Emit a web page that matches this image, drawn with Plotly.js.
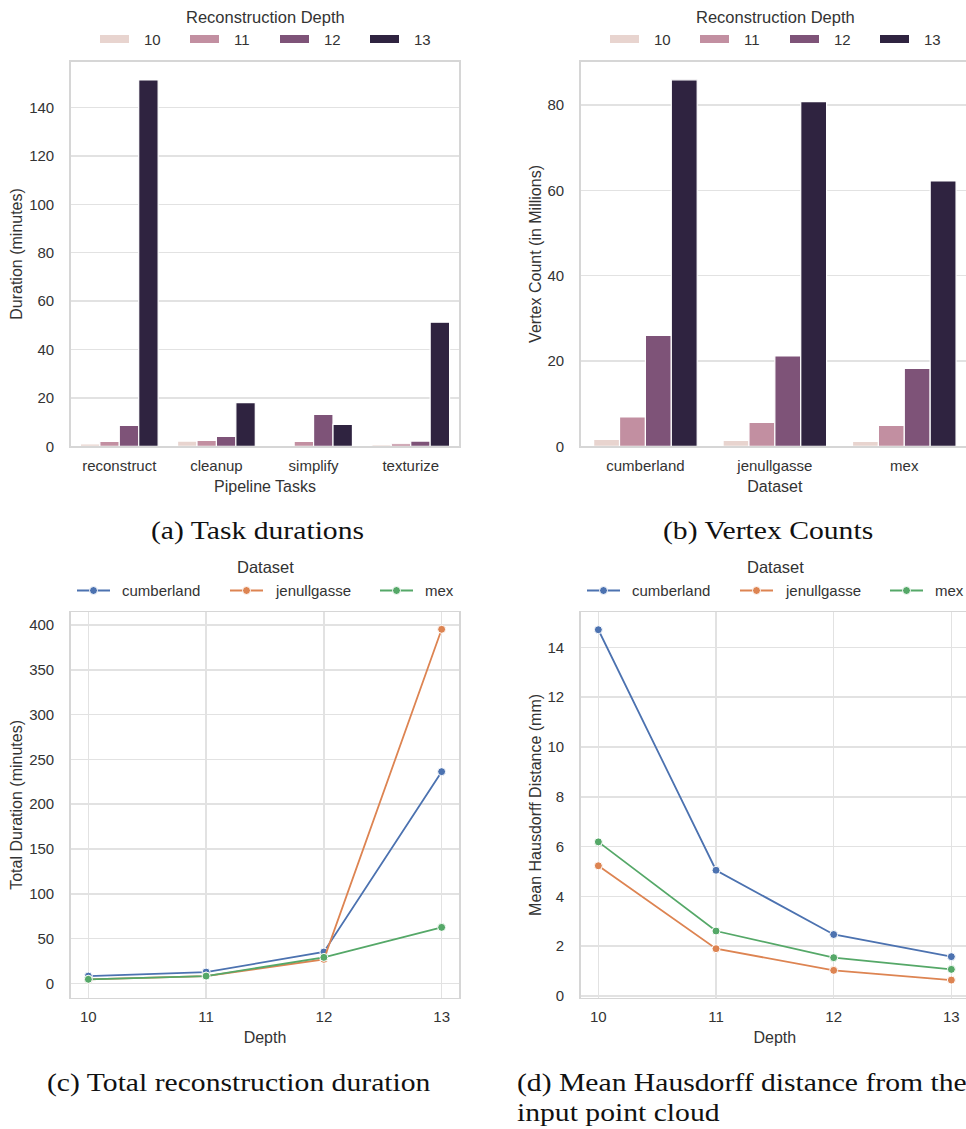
<!DOCTYPE html>
<html>
<head>
<meta charset="utf-8">
<script src="https://cdn.plot.ly/plotly-3.0.1.min.js"></script>
<style>
  html, body { margin: 0; padding: 0; background: #fff; overflow: hidden; }
  #wrap { position: relative; width: 966px; height: 1129px; overflow: hidden; }
  #chart { position: absolute; left: 0; top: 0; width: 980px; height: 1129px; }
  .cap { position: absolute; white-space: nowrap; font-family: "Liberation Serif", "DejaVu Serif", serif;
         font-size: 26px; line-height: 30px; color: #111111; transform-origin: 0 50%;
         transform: scaleX(1.14); }
</style>
</head>
<body>
<div id="wrap">
  <div id="chart"></div>
  <div class="cap" style="left:151px; top:516px;">(a) Task durations</div>
  <div class="cap" style="left:663px; top:516px;">(b) Vertex Counts</div>
  <div class="cap" style="left:47px; top:1068px;">(c) Total reconstruction duration</div>
  <div class="cap" style="left:517px; top:1068px;">(d) Mean Hausdorff distance from the<br>input point cloud</div>
</div>
<script>
// ---------- data ----------
const tasks = ['reconstruct', 'cleanup', 'simplify', 'texturize'];
const depthLabels = ['10', '11', '12', '13'];
const duration10 = [1.0, 2.2, 0.2, 0.7];
const duration11 = [2.1, 2.5, 2.1, 1.1];
const duration12 = [8.7, 4.1, 13.2, 2.2];
const duration13 = [151.4, 18.1, 9.1, 51.3];

const datasets = ['cumberland', 'jenullgasse', 'mex'];
const vertex10 = [1.65, 1.4, 1.2];
const vertex11 = [6.9, 5.6, 4.9];
const vertex12 = [26.0, 21.2, 18.3];
const vertex13 = [85.9, 80.8, 62.2];

const depths = [10, 11, 12, 13];
const totalCumberland = [8.1, 12.6, 35.0, 236.3];
const totalJenullgasse = [4.4, 8.1, 26.8, 395.2];
const totalMex = [4.5, 8.1, 29.0, 62.5];

const hausCumberland = [14.71, 5.05, 2.47, 1.58];
const hausJenullgasse = [5.23, 1.90, 1.03, 0.64];
const hausMex = [6.19, 2.61, 1.54, 1.07];

// ---------- styling ----------
const W = 980, H = 1129;
const X = p => p / W;
const Y = p => 1 - p / H;
const barColors = ['#e8d4cf', '#c28fa1', '#7e5378', '#2f2340'];
const lineColors = ['#4c72b0', '#dd8452', '#55a868'];
const gridColor = '#e2e2e2';
const frameColor = '#d6d6d6';
const textColor = '#333333';
const sans = '"Liberation Sans", Arial, sans-serif';

const durationSeries = [duration10, duration11, duration12, duration13];
const vertexSeries = [vertex10, vertex11, vertex12, vertex13];
const totalSeries = [totalCumberland, totalJenullgasse, totalMex];
const hausSeries = [hausCumberland, hausJenullgasse, hausMex];

const traces = [];
durationSeries.forEach((vals, i) => traces.push({
  type: 'bar', x: tasks, y: vals, name: depthLabels[i], xaxis: 'x', yaxis: 'y',
  marker: { color: barColors[i], line: { color: '#ffffff', width: 1.2 } }
}));
vertexSeries.forEach((vals, i) => traces.push({
  type: 'bar', x: datasets, y: vals, name: depthLabels[i], xaxis: 'x2', yaxis: 'y2',
  marker: { color: barColors[i], line: { color: '#ffffff', width: 1.2 } }
}));
totalSeries.forEach((vals, i) => traces.push({
  type: 'scatter', mode: 'lines+markers', x: depths, y: vals, name: datasets[i],
  xaxis: 'x3', yaxis: 'y3',
  line: { color: lineColors[i], width: 1.8 },
  marker: { color: lineColors[i], size: 8, line: { color: '#ffffff', width: 1 } }
}));
hausSeries.forEach((vals, i) => traces.push({
  type: 'scatter', mode: 'lines+markers', x: depths, y: vals, name: datasets[i],
  xaxis: 'x4', yaxis: 'y4',
  line: { color: lineColors[i], width: 1.8 },
  marker: { color: lineColors[i], size: 8, line: { color: '#ffffff', width: 1 } }
}));

function xAxis(domain, anchor, extra) {
  return Object.assign({
    domain: domain, anchor: anchor, showline: true, mirror: true, linecolor: frameColor,
    linewidth: 1.5, ticks: '', ticklabelstandoff: 5, zeroline: false,
    tickfont: { size: 15, color: textColor, family: sans }, fixedrange: true
  }, extra);
}
function yAxis(domain, anchor, extra) {
  return Object.assign({
    domain: domain, anchor: anchor, showline: true, mirror: true, linecolor: frameColor,
    linewidth: 1.5, ticks: '', ticklabelstandoff: 12, zeroline: false, showgrid: true,
    gridcolor: gridColor, gridwidth: 1.5,
    tickfont: { size: 15, color: textColor, family: sans }, fixedrange: true
  }, extra);
}
const axTitle = (t, s) => ({ text: t, standoff: s, font: { size: 16, color: textColor, family: sans } });

const topDom = [Y(446.4), Y(61.5)];
const botDom = [Y(997.5), Y(612.3)];
const leftDom = [X(70.7), X(459.3)];
const rightDom = [X(580.7), X(969)];

const layout = {
  width: W, height: H, margin: { l: 0, r: 0, t: 0, b: 0 },
  paper_bgcolor: '#ffffff', plot_bgcolor: '#ffffff',
  font: { family: sans, size: 15, color: textColor },
  showlegend: false, barmode: 'group', bargap: 0.2, bargroupgap: 0,
  xaxis: xAxis(leftDom, 'y', { type: 'category', range: [-0.5, 3.5], showgrid: false,
    title: axTitle('Pipeline Tasks', 8) }),
  yaxis: yAxis(topDom, 'x', { range: [0, 159.0], tickvals: [0, 20, 40, 60, 80, 100, 120, 140],
    title: axTitle('Duration (minutes)', 2) }),
  xaxis2: xAxis(rightDom, 'y2', { type: 'category', range: [-0.5, 2.5], showgrid: false,
    title: axTitle('Dataset', 8) }),
  yaxis2: yAxis(topDom, 'x2', { range: [0, 90.2], tickvals: [0, 20, 40, 60, 80],
    title: axTitle('Vertex Count (in Millions)', 2) }),
  xaxis3: xAxis(leftDom, 'y3', { range: [9.85, 13.15], tickvals: depths, showgrid: true,
    gridcolor: gridColor, gridwidth: 1.5, title: axTitle('Depth', 8) }),
  yaxis3: yAxis(botDom, 'x3', { range: [-15.8, 414.2], tickvals: [0, 50, 100, 150, 200, 250, 300, 350, 400],
    title: axTitle('Total Duration (minutes)', 2) }),
  xaxis4: xAxis(rightDom, 'y4', { range: [9.85, 13.15], tickvals: depths, showgrid: true,
    gridcolor: gridColor, gridwidth: 1.5, title: axTitle('Depth', 8) }),
  yaxis4: yAxis(botDom, 'x4', { range: [-0.06, 15.41], tickvals: [0, 2, 4, 6, 8, 10, 12, 14],
    title: axTitle('Mean Hausdorff Distance (mm)', 2) }),
  shapes: [], annotations: []
};

// ---------- legends (seaborn style, built from the category arrays) ----------
function barLegend(offset) {
  layout.annotations.push({ xref: 'paper', yref: 'paper', x: X(265 + offset), y: Y(17),
    xanchor: 'center', yanchor: 'middle', showarrow: false, text: 'Reconstruction Depth',
    font: { size: 16.5, color: textColor, family: sans } });
  depthLabels.forEach((lab, i) => {
    const x0 = 100 + offset + i * 90;
    layout.shapes.push({ type: 'rect', xref: 'paper', yref: 'paper', x0: X(x0), x1: X(x0 + 29),
      y0: Y(43), y1: Y(35), fillcolor: barColors[i], line: { width: 0 } });
    layout.annotations.push({ xref: 'paper', yref: 'paper', x: X(x0 + 42), y: Y(40),
      xanchor: 'left', yanchor: 'middle', showarrow: false, text: lab,
      font: { size: 15, color: textColor, family: sans } });
  });
}
function lineLegend(offset) {
  layout.annotations.push({ xref: 'paper', yref: 'paper', x: X(265 + offset), y: Y(567),
    xanchor: 'center', yanchor: 'middle', showarrow: false, text: 'Dataset',
    font: { size: 16.5, color: textColor, family: sans } });
  const starts = [77, 230, 380];
  datasets.forEach((lab, i) => {
    const x0 = starts[i] + offset;
    layout.shapes.push({ type: 'line', xref: 'paper', yref: 'paper', x0: X(x0), x1: X(x0 + 33),
      y0: Y(590.5), y1: Y(590.5), line: { color: lineColors[i], width: 1.8 } });
    layout.shapes.push({ type: 'circle', xref: 'paper', yref: 'paper',
      xsizemode: 'pixel', ysizemode: 'pixel', xanchor: X(x0 + 16.5), yanchor: Y(590.5),
      x0: -4, x1: 4, y0: -4, y1: 4, fillcolor: lineColors[i], line: { color: '#ffffff', width: 1 } });
    layout.annotations.push({ xref: 'paper', yref: 'paper', x: X(x0 + 43), y: Y(590),
      xanchor: 'left', yanchor: 'middle', showarrow: false, text: lab,
      font: { size: 15, color: textColor, family: sans } });
  });
}
barLegend(0); barLegend(510); lineLegend(0); lineLegend(510);

Plotly.newPlot('chart', traces, layout, { displayModeBar: false, staticPlot: true });
</script>
</body>
</html>
